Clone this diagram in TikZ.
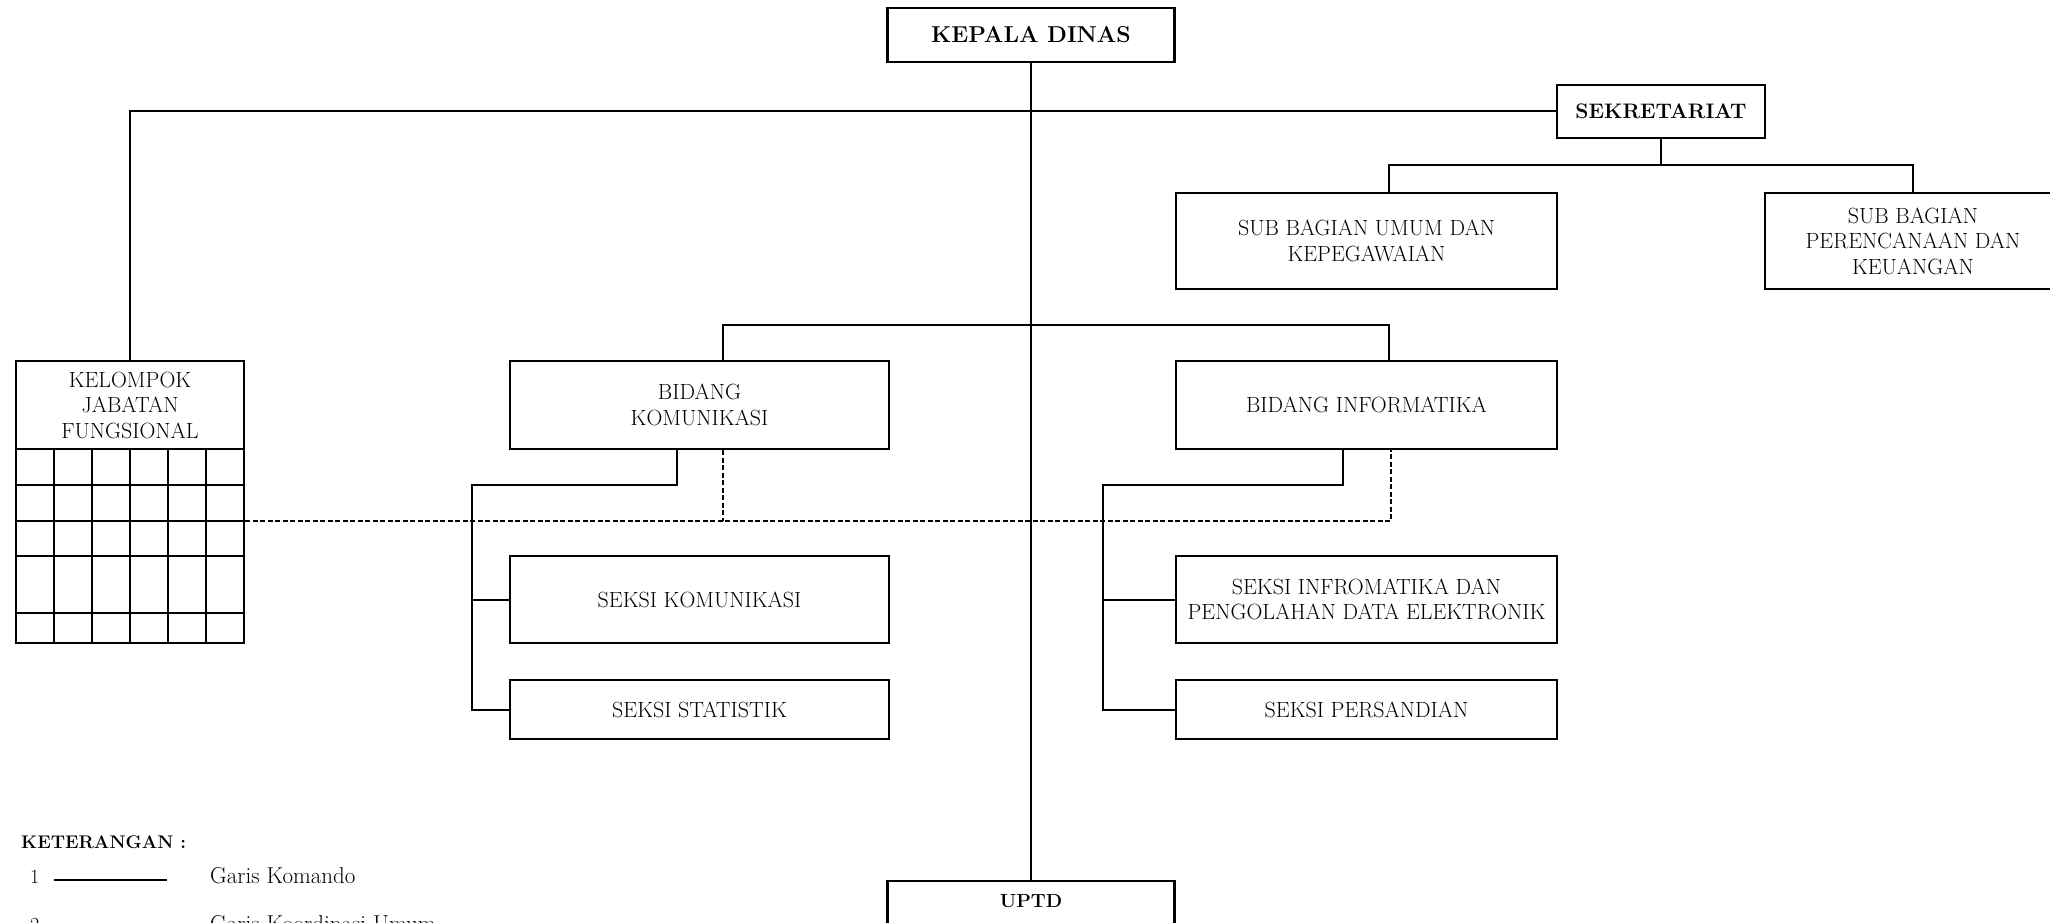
\documentclass[tikz,border=0pt]{standalone}
\usepackage{fontspec}
\begin{document}
\begin{tikzpicture}[x=1pt,y=-1pt,
  box/.style={draw, line width=2.2pt, inner sep=0pt, align=center, font=\fontsize{22}{25.5}\selectfont},
  conn/.style={line width=2pt},
  coordline/.style={line width=1.6pt, dash pattern=on 5pt off 2.5pt},
  legtext/.style={anchor=base west, inner sep=0pt, font=\fontsize{23}{26}\selectfont},
]
\useasboundingbox (0,0) rectangle (2050,923);
\fill[white] (0,0) rectangle (2050,923);
\clip (0,0) rectangle (2050,923);

% boxes
\node[box, minimum width=287pt, minimum height=54pt, font=\bfseries\fontsize{23}{26}\selectfont] (kd) at (1031,35) {KEPALA DINAS};
\node[box, minimum width=208pt, minimum height=53pt, font=\bfseries\fontsize{21}{24}\selectfont] (sek) at (1661,111.5) {SEKRETARIAT};
\node[box, minimum width=381pt, minimum height=96pt] (sbu) at (1366.5,241) {SUB BAGIAN UMUM DAN\\KEPEGAWAIAN};
\node[box, minimum width=296pt, minimum height=96pt] (sbp) at (1913,241) {SUB BAGIAN\\PERENCANAAN DAN\\KEUANGAN};
\node[box, minimum width=228pt, minimum height=88pt] (kjf) at (130,405) {KELOMPOK\\JABATAN\\FUNGSIONAL};
\node[draw, line width=2.2pt, minimum width=228pt, minimum height=194pt, inner sep=0pt] (kjfg) at (130,546) {};
\foreach \gx in {54,92,130,168,206} \draw[conn] (\gx,449) -- (\gx,643);
\foreach \gy in {485,521,556,613} \draw[conn] (16,\gy) -- (244,\gy);
\node[box, minimum width=379pt, minimum height=88pt] (bk) at (699.5,405) {BIDANG\\KOMUNIKASI};
\node[box, minimum width=381pt, minimum height=88pt] (bi) at (1366.5,405) {BIDANG INFORMATIKA};
\node[box, minimum width=379pt, minimum height=87pt] (sk) at (699.5,599.5) {SEKSI KOMUNIKASI};
\node[box, minimum width=379pt, minimum height=59pt] (ss) at (699.5,709.5) {SEKSI STATISTIK};
\node[box, minimum width=381pt, minimum height=87pt] (sip) at (1366.5,599.5) {SEKSI INFROMATIKA DAN\\PENGOLAHAN DATA ELEKTRONIK};
\node[box, minimum width=381pt, minimum height=59pt] (sp) at (1366.5,709.5) {SEKSI PERSANDIAN};
\node[box, anchor=north, minimum width=287pt, inner ysep=14pt, text height=12.5pt, text depth=40pt, font=\bfseries\fontsize{19}{22}\selectfont] (uptd) at (1031,880) {UPTD};

% connectors
\coordinate (sbus) at (1661,165);
\coordinate (bbus) at (1031,325);
\coordinate (kb) at (472,485);
\coordinate (ib) at (1103,485);
\coordinate (dl) at (723,521);
\draw[conn] (kd.south) -- (uptd.north);
\draw[conn] (kjf.north) |- (sek.west);
\draw[conn] (sek.south) -- (sbus);
\draw[conn] ([xshift=22.5pt]sbu.north) |- (sbus) -| (sbp.north);
\draw[conn] ([xshift=23.5pt]bk.north) |- (bbus) -| ([xshift=22.5pt]bi.north);
\draw[conn] ([xshift=-22.5pt]bk.south) |- (kb) |- (ss.west);
\draw[conn] (sk.west) -- (sk.west -| kb);
\draw[conn] ([xshift=-24pt]bi.south) |- (ib) |- (sp.west);
\draw[conn] (sip.west) -- (sip.west -| ib);
\draw[coordline] ([xshift=23.5pt]bk.south) -- (dl);
\draw[coordline] (kjfg.east |- dl) -| ([xshift=24.5pt]bi.south);

% legend
\node[anchor=west, inner sep=0pt, font=\bfseries\fontsize{18.3}{21}\selectfont] (ket) at (21,842) {KETERANGAN :};
\node[legtext, font=\fontsize{20}{22}\selectfont] (n1) at (30,883) {1};
\coordinate (l1a) at (54,880);
\coordinate (l1b) at (167,880);
\draw[conn] (l1a) -- (l1b);
\node[legtext] (t1) at (210,883) {Garis Komando};
\node[legtext, font=\fontsize{20}{22}\selectfont] (n2) at (30,931) {2};
\node[legtext] (t2) at (210,931) {Garis Koordinasi Umum};
\end{tikzpicture}
\end{document}
